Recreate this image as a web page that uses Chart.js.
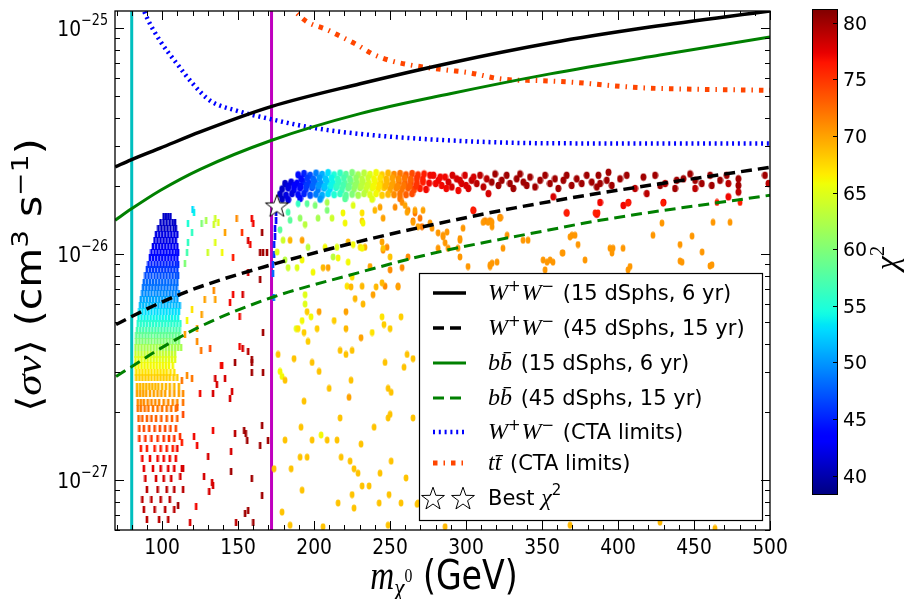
<!DOCTYPE html>
<html><head><meta charset="utf-8">
<script src="https://cdn.jsdelivr.net/npm/chart.js@4.4.1/dist/chart.umd.min.js"></script>
<style>
html,body{margin:0;padding:0;background:#fff;}
#wrap{position:relative;width:911px;height:599px;background:#fff;}
#main{position:absolute;left:0;top:0;}
#cbar{position:absolute;left:780px;top:0;}
</style></head><body>
<div id="wrap"><canvas id="main" width="911" height="599"></canvas><canvas id="cbar" width="131" height="599"></canvas></div>
<script>
// ---------------- DATA ----------------
const xRange = [69, 500];
const yRange = [6.0e-28, 1.19e-25];
const chiRange = [38.3, 81.2];
const xTickLabels = [100, 150, 200, 250, 300, 350, 400, 450, 500];
const yTickExponents = [-27, -26, -25];
const cbTickLabels = [40, 45, 50, 55, 60, 65, 70, 75, 80];

const legendChannel = ['WW', 'WW', 'bb', 'bb', 'WW', 'tt'];
const legendNote = ['(15 dSphs, 6 yr)', '(45 dSphs, 15 yr)', '(15 dSphs, 6 yr)', '(45 dSphs, 15 yr)', '(CTA limits)', '(CTA limits)'];

const massWW15 = [69.1, 79.6, 98.7, 125, 171.7, 230.3, 289.5, 355.3, 421, 500];
const svWW15 = [2.43e-26, 2.61e-26, 2.94e-26, 3.47e-26, 4.49e-26, 5.67e-26, 7.01e-26, 8.59e-26, 1.01e-25, 1.19e-25];
const massWW45 = [69.7, 79.6, 98.7, 125, 171.7, 223.7, 276.3, 332.2, 388.2, 500];
const svWW45 = [4.87e-27, 5.27e-27, 6.08e-27, 7.16e-27, 8.95e-27, 1.11e-26, 1.34e-26, 1.6e-26, 1.86e-26, 2.42e-26];
const massBB15 = [69.1, 79.6, 98.7, 125, 171.7, 230.3, 289.5, 355.3, 427.6, 500];
const svBB15 = [1.41e-26, 1.58e-26, 1.91e-26, 2.37e-26, 3.18e-26, 4.18e-26, 5.12e-26, 6.27e-26, 7.6e-26, 9.13e-26];
const massBB45 = [69.7, 79.6, 98.7, 125, 171.7, 223.7, 276.3, 355.3, 388.2, 500];
const svBB45 = [2.87e-27, 3.16e-27, 3.81e-27, 4.77e-27, 6.4e-27, 8.07e-27, 1.0e-26, 1.28e-26, 1.41e-26, 1.82e-26];
const massCtaWW = [87, 89.5, 98.7, 110, 120.4, 131.6, 149, 171, 197, 230, 290, 355, 500];
const svCtaWW = [1.25e-25, 1.13e-25, 8.77e-26, 6.92e-26, 5.65e-26, 4.77e-26, 4.31e-26, 3.96e-26, 3.64e-26, 3.4e-26, 3.18e-26, 3.09e-26, 3.08e-26];
const massCtaTT = [184, 195, 208, 217, 228, 239, 251, 263, 275, 288, 301, 324, 349, 373, 397, 421, 445, 500];
const svCtaTT = [1.25e-25, 1.07e-25, 9.87e-26, 9.22e-26, 8.45e-26, 7.65e-26, 7.15e-26, 6.87e-26, 6.68e-26, 6.51e-26, 6.36e-26, 5.94e-26, 5.85e-26, 5.74e-26, 5.55e-26, 5.42e-26, 5.37e-26, 5.3e-26];

const verticalMasses = [80, 172];
const bestPoint = [175.5, 1.64e-26];

// dense low-mass cloud, read row by row: sigma v of each row, chi^2 of each row, masses in the row
const blobRowSv = [1.47e-26, 1.38e-26, 1.30e-26, 1.22e-26, 1.15e-26, 1.08e-26, 1.02e-26, 9.6e-27, 9.0e-27, 8.5e-27, 8.0e-27, 7.5e-27, 7.1e-27, 6.7e-27, 6.3e-27, 5.9e-27, 5.55e-27, 5.2e-27, 4.9e-27, 4.6e-27, 4.35e-27, 4.1e-27, 3.85e-27, 3.6e-27, 3.4e-27, 3.2e-27, 3.0e-27, 2.85e-27, 2.6e-27, 2.4e-27, 2.2e-27, 2.06e-27, 1.86e-27, 1.68e-27, 1.52e-27, 1.37e-27, 1.24e-27, 1.12e-27, 1.01e-27, 9.1e-28, 8.2e-28, 7.4e-28, 6.7e-28];
const blobRowChi = [41, 41, 41, 42, 42, 42.5, 43, 44, 45, 46, 47, 48, 48.5, 49.5, 50.5, 51.5, 53, 54, 55.5, 57, 58.5, 60, 62, 63.5, 65, 66, 67, 68, 69, 70, 71, 72, 73, 74, 75, 76, 77, 77.5, 78, 79, 79, 79, 79];
const blobRowMasses = [
  [101, 102.5, 104, 105.5],
  [99, 101, 103, 105, 107, 108.5],
  [97.5, 99.5, 101.5, 103.5, 105.5, 107.5, 109],
  [96, 98, 100, 102, 104, 106, 108, 110],
  [95, 97, 99, 101, 103, 105, 107, 109],
  [94, 96, 98, 100, 102, 104, 106, 108, 110],
  [93, 95, 97, 99, 101, 103, 105, 107, 109, 110.5],
  [92, 94, 96, 98, 100, 102, 104, 106, 108, 110],
  [91, 93, 95, 97, 99, 101, 103, 105, 107, 109, 110.5],
  [90, 92, 94, 96, 98, 100, 102, 104, 106, 108, 110],
  [89, 91, 93, 95, 97, 99, 101, 103, 105, 107, 109, 110.5],
  [88, 90, 92, 94, 96, 98, 100, 102, 104, 106, 108, 110],
  [87.5, 89.5, 91.5, 93.5, 95.5, 97.5, 99.5, 101.5, 103.5, 105.5, 107.5, 109.5],
  [87, 89, 91, 93, 95, 97, 99, 101, 103, 105, 107, 109, 111],
  [86, 88, 90, 92, 94, 96, 98, 100, 102, 104, 106, 108, 110],
  [85.5, 87.5, 89.5, 91.5, 93.5, 95.5, 97.5, 99.5, 101.5, 103.5, 105.5, 107.5, 109.5, 111.5],
  [85, 87, 89, 91, 93, 95, 97, 99, 101, 103, 105, 107, 109, 111],
  [84.5, 86.5, 88.5, 90.5, 92.5, 94.5, 96.5, 98.5, 100.5, 102.5, 104.5, 106.5, 108.5, 110.5],
  [84, 86, 88, 90, 92, 94, 96, 98, 100, 102, 104, 106, 108, 110, 112],
  [83.5, 85.5, 87.5, 89.5, 91.5, 93.5, 95.5, 97.5, 99.5, 101.5, 103.5, 105.5, 107.5, 109.5, 111.5],
  [83, 85, 87, 89, 91, 93, 95, 97, 99, 101, 103, 105, 107, 109, 111],
  [83, 85, 87, 89, 91, 93, 95, 97, 99, 101, 103, 105, 107, 109, 111],
  [82.5, 84.5, 86.5, 88.5, 90.5, 92.5, 94.5, 96.5, 98.5, 100.5, 102.5, 104.5, 106.5, 108.5, 110.5, 112.5],
  [82.5, 84.5, 86.5, 88.5, 90.5, 92.5, 94.5, 96.5, 98.5, 100.5, 102.5, 104.5, 106.5, 108.5],
  [82.5, 84.5, 86.5, 88.5, 90.5, 92.5, 94.5, 96.5, 98.5, 100.5, 102.5, 104.5, 106.5, 108.5],
  [82.5, 84.5, 86.5, 88.5, 90.5, 92.5, 94.5, 96.5, 98.5, 100.5, 102.5, 104.5, 107],
  [83, 85, 87, 89, 91, 93, 95, 97, 99, 101, 103, 105.5, 108],
  [83, 85, 87, 89, 91, 93, 95, 97, 99, 101, 103, 105, 107.5, 110],
  [83.5, 85.5, 87.5, 89.5, 91.5, 93.5, 95.5, 97.5, 100, 102.5, 105, 108, 111],
  [83.5, 85.5, 87.5, 89.5, 92, 94.5, 97, 99.5, 102, 105, 108, 111],
  [84, 86, 88, 90.5, 93, 95.5, 98, 101, 104, 107, 110],
  [84, 86, 88.5, 91, 94, 97, 100, 103, 106, 109],
  [84.5, 87, 90, 93, 96, 99.5, 103, 106.5, 110],
  [85, 88, 91.5, 95, 98.5, 102, 105.5, 109],
  [85, 89, 93, 97, 101, 104.5, 108],
  [86, 90, 95, 99, 103, 107],
  [87, 92, 97, 101, 105, 109],
  [88, 94, 99, 104, 108],
  [89, 96, 101, 106],
  [90, 97, 103, 108],
  [87, 93, 99, 105],
  [88, 95, 102, 108],
  [90, 98, 104]
];

// sparse points drawn as short dashes: [mass GeV, sigma v, chi^2]
const dashPoints = [
  [117,1.37e-26,55],[121,1.53e-26,54],[120,1.58e-26,53],[119.7,1.25e-26,56],[116.4,1.02e-26,57],[117,1.12e-26,56],[115,9.1e-27,60],
  [126,1.37e-26,60],[129,1.41e-26,62],[135,1.44e-26,64],[134,1.35e-26,64],[137,1.38e-26,65],[130,1.02e-26,64],[135,1.12e-26,65],
  [139.5,1.01e-26,66],[141.4,1.24e-26,70],[149,1.44e-26,71],[152.6,1.24e-26,75],[159,1.44e-26,77],[160,1.37e-26,77],[156.6,1.15e-26,78],
  [165.8,1.24e-26,80],[164.5,1.01e-26,80],[166.4,1.01e-26,80],[169,1.02e-26,80],[158,1.1e-26,77],[146.7,9.6e-27,76],[156.6,8.3e-27,78],
  [164.5,7.7e-27,80],[146.7,6.6e-27,77],[153,6.6e-27,78],[134,6.9e-27,71],[128,6.3e-27,70],[135,6.3e-27,70],[119.7,5.7e-27,67],
  [116.4,5.1e-27,66],[123,4.7e-27,70],[126,5.4e-27,70],[151,5.3e-27,77],[144.7,6.1e-27,77],[115,4.4e-27,70],[123,4.1e-27,71],
  [125.7,3.75e-27,72],[131.6,3.8e-27,74],[151,3.9e-27,77],[153,3.8e-27,78],[156.6,3.7e-27,79],[159,3.4e-27,80],[166.4,4.5e-27,80],
  [138.8,3.2e-27,77],
  [116.4,2.9e-27,71],[119.7,2.8e-27,72],[113.8,2.4e-27,71],[113.8,2.2e-27,72],[125,2.4e-27,77],[135,2.8e-27,78],[136,2.65e-27,78],
  [141.4,2.8e-27,78],[139.5,3.2e-27,77],[133.5,2.4e-27,78],[144.7,2.3e-27,78],[146,2.45e-27,78],[148,3.3e-27,80],[159,3.3e-27,80],
  [159,3.0e-27,80],[166.4,3.0e-27,80],[121,1.55e-27,77],[123,1.42e-27,77],[133.5,1.66e-27,77],[148,1.6e-27,79],[154,1.66e-27,80],
  [155,1.6e-27,80],[156,1.49e-27,80],[165.8,1.74e-27,80],[164.5,1.42e-27,80],[169.7,1.49e-27,80],[145.4,1.33e-27,78],[130.3,1.27e-27,78],
  [127.6,1.03e-27,78],[133.5,9.4e-28,78],[132.9,9.7e-28,78],[131,8.9e-28,78],[145.4,1.09e-27,80],[159,1.01e-27,80],[165.8,8.5e-28,80],
  [122.4,7.6e-28,77],[154.6,7.1e-28,80],[156.6,7.3e-28,80],[118.4,6.5e-28,78],[160,6.5e-28,80],[148.7,6.5e-28,79],[112,1.04e-27,78],
  [113,1.12e-27,78],[113.8,9.1e-28,79],[110.5,7.7e-28,80],
  [113,2.75e-27,72],[110,2.1e-27,73],[113.8,1.95e-27,74],[111.8,1.55e-27,75],[113,1.47e-27,76],[110,1.37e-27,77],[113.8,1.12e-27,78],
  [175.7,1.64e-26,42],[175,1.53e-26,42],[175,1.41e-26,43],[174.3,1.3e-26,43],[174.3,1.2e-26,44],[173.7,1.1e-26,45],[173.7,9.9e-27,46],
  [173,9.0e-27,47],[173,8.2e-27,48],[173.5,6.4e-27,49]
];

// dense high-mass band near 2e-26: [mass GeV, sigma v, chi^2]
const bandPoints = [
  [189.5,2.24e-26,44],[193.4,2.27e-26,45],[197.4,2.23e-26,47],[201.3,2.28e-26,49],[205.3,2.25e-26,51],[209.2,2.29e-26,53],[213.2,2.24e-26,55],
  [217.1,2.28e-26,56],[221,2.25e-26,58],[225,2.29e-26,60],[229,2.24e-26,62],[232.9,2.28e-26,63],[236.8,2.25e-26,65],[240.8,2.29e-26,66],
  [244.7,2.24e-26,68],[248.7,2.28e-26,69],[252.6,2.25e-26,71],[256.6,2.27e-26,72],[260.5,2.24e-26,73],[264.5,2.27e-26,74],[268.4,2.24e-26,75],
  [272.4,2.26e-26,76],[276.3,2.23e-26,77],
  [180.9,2.05e-26,41],[184.9,2.08e-26,42],[188.8,2.06e-26,43],[192.8,2.09e-26,45],[196.7,2.06e-26,46],[200.7,2.08e-26,48],[204.6,2.05e-26,50],
  [208.6,2.09e-26,52],[212.5,2.06e-26,54],[216.4,2.08e-26,56],[220.4,2.05e-26,58],[224.3,2.09e-26,60],[228.3,2.06e-26,61],[232.2,2.08e-26,63],
  [236.2,2.05e-26,65],[240.1,2.09e-26,66],[244,2.06e-26,68],[248,2.08e-26,69],[252,2.05e-26,70],[255.9,2.09e-26,72],[259.9,2.06e-26,73],
  [263.8,2.08e-26,74],[267.8,2.05e-26,75],[271.7,2.08e-26,76],[275.7,2.06e-26,77],
  [179,1.94e-26,41],[183,1.96e-26,42],[186.8,1.93e-26,43],[190.8,1.96e-26,44],[194.7,1.94e-26,46],[198.7,1.97e-26,47],[202.6,1.93e-26,49],
  [206.6,1.96e-26,51],[210.5,1.94e-26,53],[214.5,1.97e-26,55],[218.4,1.93e-26,57],[222.4,1.96e-26,59],[226.3,1.94e-26,61],[230.3,1.97e-26,62],
  [234.2,1.93e-26,64],[238.2,1.96e-26,65],[242.1,1.94e-26,67],[246,1.97e-26,68],[250,1.93e-26,70],[254,1.96e-26,71],[257.9,1.94e-26,72],
  [261.8,1.96e-26,73],[265.8,1.93e-26,74],[269.7,1.95e-26,76],[273.7,1.93e-26,77],
  [177.6,1.84e-26,41],[181.6,1.82e-26,42],[185.5,1.85e-26,42],[189.5,1.83e-26,44],[193.4,1.85e-26,45],[197.4,1.82e-26,47],[201.3,1.84e-26,49],
  [205.3,1.82e-26,51],[209.2,1.85e-26,53],[213.2,1.83e-26,55],[217.1,1.85e-26,56],[221,1.82e-26,58],[225,1.84e-26,60],[229,1.82e-26,62],
  [232.9,1.85e-26,63],[236.8,1.83e-26,65],[240.8,1.85e-26,66],[244.7,1.82e-26,68],[248.7,1.84e-26,69],[252.6,1.83e-26,71],[256.6,1.85e-26,72],
  [260.5,1.83e-26,73],[264.5,1.85e-26,74],
  [191.5,2.15e-26,44],[195.5,2.17e-26,46],[199.5,2.14e-26,48],[203.5,2.17e-26,50],[207.5,2.15e-26,52],[211.5,2.17e-26,54],[215.5,2.14e-26,56],
  [219.5,2.17e-26,57],[223.5,2.15e-26,59],[227.5,2.17e-26,61],[231.5,2.14e-26,63],[235.5,2.17e-26,64],[239.5,2.15e-26,66],[243.5,2.17e-26,67],
  [247.5,2.14e-26,69],[251.5,2.17e-26,70],[255.5,2.15e-26,71],[259.5,2.17e-26,72],[263.5,2.14e-26,73],[267.5,2.16e-26,75],[271.5,2.14e-26,76],
  [183,2.0e-26,42],[187,2.01e-26,43],[191,1.99e-26,44],[195,2.01e-26,46],[199,2.0e-26,48],[203,2.01e-26,50],[207,1.99e-26,52],[211,2.01e-26,54],
  [215,2.0e-26,56],[219,2.01e-26,57],[223,1.99e-26,59],[227,2.01e-26,61],[231,2.0e-26,63],[235,2.01e-26,64],[239,1.99e-26,66],[243,2.01e-26,67],
  [247,2.0e-26,69],[251,2.01e-26,70],[255,1.99e-26,71],[259,2.01e-26,72],[263,2.0e-26,73],[267,2.0e-26,75],
  [179,1.75e-26,41],[183,1.74e-26,42],[190.8,1.76e-26,44],[204,1.75e-26,50],[220.4,1.76e-26,58],[238.2,1.75e-26,65],[256.6,1.76e-26,72],
  [278.5,2.23e-26,77],[281.8,2.12e-26,77],[284,2.01e-26,77],[286.2,2.19e-26,77],[288.4,2.08e-26,78],[290.6,1.98e-26,78],[293.8,2.15e-26,78],
  [297.1,2.05e-26,78],[299.3,2.23e-26,78],[301.5,1.95e-26,78],[303.7,2.12e-26,79],[307,2.05e-26,79],[309.2,2.23e-26,79],[311.4,1.98e-26,79],
  [313.6,2.15e-26,79],[316.9,2.08e-26,80],[319.1,2.26e-26,80],[321.3,2.01e-26,80],[323.5,2.12e-26,80],[326.7,2.23e-26,80],[328.9,2.05e-26,80],
  [331.1,1.95e-26,80],[333.3,2.15e-26,80],[335.5,2.26e-26,80],[337.7,2.08e-26,80],[339.9,2.01e-26,80],[342.1,2.19e-26,80],[345.4,1.98e-26,80],
  [348.7,2.12e-26,80],[352,2.23e-26,80],[355.2,2.05e-26,80],[358.5,2.15e-26,80],[360.7,1.95e-26,80],[364,2.12e-26,80],[366.2,2.23e-26,80],
  [369.5,2.01e-26,80],[372.8,2.15e-26,80],[376.1,2.05e-26,80],[379.4,2.23e-26,80],[382.7,2.08e-26,80],[386,1.98e-26,80],[314.7,1.85e-26,78],
  [357.4,1.79e-26,78],[294.9,1.91e-26,77],[280,2.05e-26,77],[283,2.19e-26,77],[287,1.95e-26,77],[291,2.23e-26,78],[296,2.12e-26,78],
  [300,2.01e-26,78],[305,2.19e-26,78],
  [387.1,2.23e-26,80],[388.2,2.05e-26,80],[392.6,2.12e-26,80],[393.7,2.3e-26,80],[395.9,2.01e-26,80],[401.3,2.15e-26,80],[405.7,2.23e-26,80],
  [411.2,1.95e-26,79],[416.7,2.19e-26,80],[418.9,1.85e-26,79],[424.4,2.23e-26,80],[427.7,2.01e-26,80],[431,2.05e-26,79],[437.5,1.95e-26,80],
  [438.6,2.12e-26,80],[443,2.15e-26,80],[447.4,2.26e-26,80],[450.7,2.12e-26,80],[450.7,1.95e-26,79],[455.1,2.05e-26,80],[460.6,2.23e-26,80],
  [461.7,2.01e-26,80],[467.1,2.12e-26,80],[471.5,2.23e-26,80],[472.6,2.05e-26,79],[479.2,2.01e-26,80],[479.2,1.88e-26,79],[496.7,2.23e-26,80],
  [499,2.05e-26,79],[479.2,2.15e-26,80],
  [388.2,1.69e-26,77],[406.8,1.69e-26,77],[429.9,1.69e-26,77],[472.6,1.79e-26,77],[403.5,1.64e-26,77],[304.8,1.56e-26,77],[366.2,1.52e-26,77],
  [386,1.5e-26,77],[312.5,1.4e-26,71],[315.8,1.4e-26,71],[322.4,1.45e-26,71]
];

// scattered points below the band: [mass GeV, sigma v, chi^2]
const scatterPoints = [
  [182.9,1.53e-26,57],[189.5,1.67e-26,56],[195.4,1.67e-26,58],[200.7,1.64e-26,60],[208.6,1.69e-26,62],[208.6,1.56e-26,60],[202.6,1.44e-26,62],
  [194.1,1.35e-26,63],[190.8,1.44e-26,61],[184.2,1.41e-26,58],[177.6,1.28e-26,58],[211.8,1.44e-26,64],[219,1.52e-26,66],[220.4,1.37e-26,66],
  [225.7,1.64e-26,65],[231.6,1.52e-26,67],[231.6,1.4e-26,68],[240,1.56e-26,69],[243.4,1.61e-26,70],[245.4,1.44e-26,70],[253.3,1.61e-26,71],
  [257.9,1.69e-26,71],[261.8,1.56e-26,71],[266.4,1.52e-26,72],[269.7,1.44e-26,72],[265.1,1.4e-26,72],[271,1.32e-26,72],[179.6,1.15e-26,64],
  [184.2,1.15e-26,69],[192.1,1.15e-26,70],[196,1.07e-26,63],[215,1.07e-26,65],[207.2,1.07e-26,66],[222.4,1.13e-26,69],[225.7,1.1e-26,66],
  [230.3,1.07e-26,67],[233.5,1.07e-26,69],[245.4,1.04e-26,71],[248,1.07e-26,71],[244.7,1.13e-26,70],[175.7,1.02e-26,65],[180.9,9.4e-27,63],
  [182.9,8.7e-27,64],[188.8,8.7e-27,65],[192.1,9.4e-27,66],[199.3,8.3e-27,66],[205.9,8.7e-27,69],[209.2,8.7e-27,70],[212.5,9.7e-27,63],
  [215.8,9.6e-27,66],[222.4,9.2e-27,66],[225,7.9e-27,67],[231.6,7.2e-27,69],[236.8,8.8e-27,70],[250,8.5e-27,71],[257.9,8.7e-27,71],
  [261.8,9.7e-27,71],[255.3,7.2e-27,71],[246.7,7.2e-27,71],[221.7,7.2e-27,67],
  [194.1,6.6e-27,65],[194.1,6.0e-27,65],[195.4,5.55e-27,68],[203.3,5.55e-27,70],[198,5.27e-27,66],[192.1,5.07e-27,66],[188.2,4.67e-27,65],
  [189.5,4.67e-27,67],[193.4,4.49e-27,68],[196,4.1e-27,68],[202,4.67e-27,68],[213.2,5.07e-27,68],[221,5.55e-27,70],[221,4.67e-27,69],
  [227,6.34e-27,69],[232.2,6.0e-27,69],[224.3,7.15e-27,69],[238.8,6.6e-27,70],[240.8,7.15e-27,69],[244.7,7.45e-27,69],[255.3,7.15e-27,70],
  [244.7,5.27e-27,67],[246,4.87e-27,68],[250,4.67e-27,68],[257.2,5.27e-27,68],[238.2,4.49e-27,67],[230.9,4.26e-27,70],[217.1,3.74e-27,68.5],
  [221,3.59e-27,68.5],[225,3.74e-27,68.5],[176.3,3.59e-27,68.5],[186.8,3.44e-27,68.5],[198.7,3.31e-27,68.5],[203.3,3.02e-27,68.5],[177.6,3.02e-27,66],
  [178.9,2.87e-27,66],[180.9,2.76e-27,68.5],[209.9,2.54e-27,68.5],[224.3,2.76e-27,68.5],[223,2.32e-27,70],[246.7,3.31e-27,68.5],[259.2,3.15e-27,68.5],
  [261.2,3.59e-27,68.5],[265.1,3.44e-27,68.5],[248.7,2.54e-27,68.5],[250.7,2.44e-27,68.5],[193.4,2.23e-27,68.5],[217.1,1.88e-27,68.5],[248.7,1.88e-27,68.5],
  [250,1.95e-27,68.5],[265.1,1.88e-27,68.5],[239.5,1.71e-27,68.5],[191.4,1.71e-27,68.5],[180.9,1.5e-27,68.5],[198.7,1.5e-27,68.5],[204.6,1.58e-27,66],
  [208.6,1.5e-27,68.5],[215.1,1.5e-27,68.5],[230.9,1.44e-27,68.5],[190.8,1.26e-27,68.5],[195.4,1.26e-27,68.5],[217.8,1.26e-27,68.5],[223.7,1.21e-27,68.5],
  [250.7,1.21e-27,68.5],[173.7,1.12e-27,68.5],[184.9,1.12e-27,68.5],[226.3,1.12e-27,68.5],[228.9,1.07e-27,68.5],[243.4,1.07e-27,68.5],[260.5,1.02e-27,68.5],
  [231.6,9.4e-28,68.5],[236.2,9.4e-28,68.5],[192.1,9.0e-28,68.5],[225,8.6e-28,68.5],[249.3,8.6e-28,68.5],[215.8,7.9e-28,68.5],[226.3,7.5e-28,68.5],
  [242.8,7.9e-28,68.5],[257.2,7.9e-28,68.5],[178.9,7.2e-28,68.5],[184.2,6.3e-28,68.5],[248.7,6.3e-28,68.5],[205.9,6.2e-28,68.5],[268.4,7.9e-28,68.5],
  [267.8,7.8e-28,68.5],
  [232.2,1.37e-26,66],[231.6,1.06e-26,66],[245.4,1.06e-26,68.5],[250,9.7e-27,68.5],[259.9,1.64e-26,70],[261.2,1.53e-26,70],[265.1,1.38e-26,70],
  [268.4,1.32e-26,70],[266.4,1.56e-26,70],[271.7,1.56e-26,70],[276.3,1.37e-26,70.5],[277.6,1.3e-26,70.5],[281.6,1.24e-26,70.5],[284.9,1.19e-26,70.5],
  [287.5,1.25e-26,70.5],[296,1.17e-26,70.5],[294.7,1.06e-26,70.5],[288.2,1.06e-26,70.5],[281.6,1.06e-26,70.5],[298,1.3e-26,70.5],[304.6,1.56e-26,76],
  [311.2,1.38e-26,70.5],[317.1,1.38e-26,70.5],[322.4,1.44e-26,70.5],[324.3,1.06e-26,70.5],[315.8,8.8e-27,70.5],[317.1,9.1e-27,70.5],[337.5,1.15e-26,70.5],
  [350.7,9.4e-27,70.5],[352,8.5e-27,70.5],[355.3,9.4e-27,70.5],[363.2,1.01e-26,70.5],[366.4,1.52e-26,76],[369.7,1.21e-26,70.5],[373.7,1.1e-26,70.5],
  [378.3,9.4e-27,70.5],[386.8,1.52e-26,76],[396.7,1.06e-26,70.5],[403.3,1.06e-26,70.5],[406.6,1.68e-26,76],[407.9,8.8e-27,70.5],[423,1.21e-26,70.5],
  [428.9,1.37e-26,70.5],[429.6,1.68e-26,76],[440.8,1.1e-26,70.5],[442.1,9.2e-27,70.5],[461.8,8.95e-27,70.5],[462.5,1.38e-26,70.5],[465.1,1.69e-26,76],
  [473.7,1.38e-26,70.5],[480.3,1.69e-26,76],
  [284.9,1.21e-26,70.5],[286.2,1.12e-26,70.5],[296,1.15e-26,70.5],[296,9.7e-27,70.5],[301.3,8.8e-27,70.5],[314.5,1.38e-26,70.5],[317.1,1.32e-26,70.5],
  [315.8,8.95e-27,70.5],[320.4,9.2e-27,70.5],[327,1.21e-26,70.5],[340.8,1.15e-26,70.5],[353.3,9.2e-27,70.5],[357.2,9.2e-27,70.5],[363.8,1.01e-26,70.5],
  [371.7,1.21e-26,70.5],[368.4,1.19e-26,70.5],[384.9,1.52e-26,76],[394.7,1.06e-26,70.5],[396,1.01e-26,70.5],[406.6,8.5e-27,70.5],[440.8,9.3e-27,70.5],
  [448.7,1.2e-26,70.5],[455.3,1.02e-26,70.5],[460.5,8.85e-27,70.5],
  [286.2,6.2e-28,69],[368.4,6.3e-28,69],[427.6,6.5e-28,69],[463.8,6.1e-28,69]
];

// ---------------- HELPERS ----------------
const SANS = '"DejaVu Sans", "Liberation Sans", sans-serif';
const SERIF = '"Liberation Serif", "DejaVu Serif", serif';
const S = px => px + 'px ' + SANS;
const MI = px => 'italic ' + px + 'px ' + SERIF;
const SR = px => px + 'px ' + SERIF;

const JR = [[0,0],[0.35,0],[0.66,1],[0.89,1],[1,0.5]];
const JG = [[0,0],[0.125,0],[0.375,1],[0.64,1],[0.91,0],[1,0]];
const JB = [[0,0.5],[0.11,1],[0.34,1],[0.65,0],[1,0]];
function interp(v, pts){ for (let i=1;i<pts.length;i++){ if (v<=pts[i][0]){ const a=pts[i-1], b=pts[i]; return a[1]+(b[1]-a[1])*(v-a[0])/(b[0]-a[0]); } } return pts[pts.length-1][1]; }
function jetV(v){ v=Math.max(0,Math.min(1,v)); return 'rgb('+Math.round(255*interp(v,JR))+','+Math.round(255*interp(v,JG))+','+Math.round(255*interp(v,JB))+')'; }
function jetChi(c){ return jetV((c-chiRange[0])/(chiRange[1]-chiRange[0])); }

const spriteCache = {};
function ellipseSprite(col, rx, ry){
  const key = 'e'+col+'|'+rx+'|'+ry;
  if (spriteCache[key]) return spriteCache[key];
  const c=document.createElement('canvas'); c.width=Math.ceil(2*rx+1); c.height=Math.ceil(2*ry+1);
  const g=c.getContext('2d'); g.fillStyle=col; g.beginPath(); g.ellipse(c.width/2,c.height/2,rx,ry,0,0,Math.PI*2); g.fill();
  spriteCache[key]=c; return c;
}
function dashSprite(col){
  const key = 'd'+col;
  if (spriteCache[key]) return spriteCache[key];
  const c=document.createElement('canvas'); c.width=4; c.height=7;
  const g=c.getContext('2d'); g.fillStyle=col; g.fillRect(0.7,0,2.6,7);
  spriteCache[key]=c; return c;
}
function makeStar(R){
  const s=Math.ceil(2*R+4); const c=document.createElement('canvas'); c.width=s; c.height=s;
  const g=c.getContext('2d'); const cx=s/2, cy=s/2+R*0.1;
  g.beginPath();
  for (let i=0;i<10;i++){ const r=(i%2)?R*0.4:R; const a=-Math.PI/2+i*Math.PI/5; const x=cx+r*Math.cos(a), y=cy+r*Math.sin(a); if(i) g.lineTo(x,y); else g.moveTo(x,y); }
  g.closePath(); g.fillStyle='#fff'; g.fill(); g.lineWidth=1; g.strokeStyle='#000'; g.stroke();
  return c;
}
const starImg = makeStar(12);

function runsWidth(ctx, runs){ let w=0; for (const r of runs){ ctx.font=r.f; w+=(r.dx||0)+ctx.measureText(r.t).width; } return w; }
function drawRuns(ctx, runs, x, y, align, sx){
  sx = sx||1;
  const w = runsWidth(ctx, runs)*sx;
  const x0 = align==='right' ? x-w : (align==='center' ? x-w/2 : x);
  ctx.save(); ctx.translate(x0, y); ctx.scale(sx, 1);
  ctx.textAlign='left'; ctx.textBaseline='alphabetic';
  let cx=0;
  for (const r of runs){ ctx.font=r.f; cx+=(r.dx||0); ctx.fillText(r.t, cx, r.dy||0); cx+=ctx.measureText(r.t).width; }
  ctx.restore();
}
function channelRuns(ch){
  if (ch==='WW') return [{t:'W',f:MI(24)},{t:'+',f:S(15),dy:-9},{t:'W',f:MI(24),dx:1},{t:'\u2212',f:S(15),dy:-9}];
  if (ch==='bb') return [{t:'b',f:MI(24)},{t:'b\u0304',f:MI(24)}];
  return [{t:'t',f:MI(24)},{t:'t\u0304',f:MI(24)}];
}

const zip = (xs, ys) => xs.map((x,i)=>({x:x, y:ys[i]}));

// styles (kept separate from data)
const curveStyles = [
  {color:'#000000', width:3.5, dash:[]},
  {color:'#000000', width:3.5, dash:[11,6]},
  {color:'#008000', width:3, dash:[]},
  {color:'#008000', width:3, dash:[11,6]},
  {color:'#0000ff', width:4.5, dash:[2,3.8]},
  {color:'#ff4500', width:5, dash:[4.5,6,1.5,6]}
];
const curveData = [zip(massWW15,svWW15), zip(massWW45,svWW45), zip(massBB15,svBB15), zip(massBB45,svBB45), zip(massCtaWW,svCtaWW), zip(massCtaTT,svCtaTT)];

const blobPts = [];
blobRowSv.forEach((sv,i)=>blobRowMasses[i].forEach(m=>blobPts.push({x:m, y:sv, c:blobRowChi[i]})));
const dashPts = dashPoints.map(p=>({x:p[0], y:p[1], c:p[2]}));
const bandPts = bandPoints.map(p=>({x:p[0], y:p[1], c:p[2]}));
const dotPts = scatterPoints.map(p=>({x:p[0], y:p[1], c:p[2]}));

const datasets = [];
datasets.push({type:'scatter', data:[{x:bestPoint[0], y:bestPoint[1]}], pointStyle:starImg, pointRadius:10, order:0, clip:0});
curveData.forEach((d,i)=>{
  const st=curveStyles[i];
  datasets.push({type:'line', data:d, borderColor:st.color, borderWidth:st.width, borderDash:st.dash, borderCapStyle:'butt',
    pointRadius:0, cubicInterpolationMode:'monotone', fill:false, order:1, clip:0});
});
datasets.push({type:'scatter', data:dotPts, pointStyle:(c)=>ellipseSprite(jetChi(c.raw.c),2.4,3.4), pointRadius:3, order:3, clip:0});
datasets.push({type:'scatter', data:bandPts, pointStyle:(c)=>ellipseSprite(jetChi(c.raw.c),3.0,3.7), pointRadius:3, order:3, clip:0});
datasets.push({type:'scatter', data:blobPts.concat(dashPts), pointStyle:(c)=>dashSprite(jetChi(c.raw.c)), pointRadius:3, order:3, clip:0});
const vColors = ['#00bfbf', '#bf00bf'];
verticalMasses.forEach((m,i)=>{
  datasets.push({type:'line', data:[{x:m,y:yRange[0]},{x:m,y:yRange[1]}], borderColor:vColors[i], borderWidth:3, pointRadius:0, order:4, clip:0});
});

function drawLegend(ctx){
  const bx=419, by=273, bw=343, bh=247;
  ctx.save();
  ctx.fillStyle='#fff'; ctx.fillRect(bx,by,bw,bh);
  ctx.strokeStyle='#000'; ctx.lineWidth=1.2; ctx.setLineDash([]); ctx.strokeRect(bx+0.5,by+0.5,bw,bh);
  const rows=[293,328,363,398,432,463,498];
  for (let i=0;i<6;i++){
    const st=curveStyles[i], yc=rows[i];
    ctx.save(); ctx.strokeStyle=st.color; ctx.lineWidth=st.width; ctx.setLineDash(st.dash); ctx.lineCap='butt';
    ctx.beginPath(); ctx.moveTo(433,yc); ctx.lineTo(466,yc); ctx.stroke(); ctx.restore();
    ctx.fillStyle='#000';
    drawRuns(ctx, channelRuns(legendChannel[i]).concat([{t:' '+legendNote[i], f:S(21), dx:2}]), 488, yc+7, 'left');
  }
  ctx.drawImage(starImg, 433-starImg.width/2, 498-starImg.height/2);
  ctx.drawImage(starImg, 463-starImg.width/2, 498-starImg.height/2);
  ctx.fillStyle='#000';
  drawRuns(ctx, [{t:'Best ',f:S(21)},{t:'\u03c7',f:MI(24)},{t:'2',f:S(15),dy:-10}], 488, 505, 'left');
  ctx.restore();
}

const decor = {
  id:'decor',
  afterDraw(chart){
    const ctx=chart.ctx, a=chart.chartArea, xs=chart.scales.x, ys=chart.scales.y;
    drawLegend(ctx);
    ctx.save();
    ctx.strokeStyle='#000'; ctx.setLineDash([]);
    ctx.lineWidth=1.3; ctx.strokeRect(a.left, a.top, a.right-a.left, a.bottom-a.top);
    ctx.lineWidth=1; ctx.beginPath();
    for (let m=70; m<=500; m+=10){
      const px=Math.round(xs.getPixelForValue(m))+0.5; const L = xTickLabels.includes(m) ? 9 : 5;
      ctx.moveTo(px,a.bottom); ctx.lineTo(px,a.bottom-L); ctx.moveTo(px,a.top); ctx.lineTo(px,a.top+L);
    }
    for (let e=-28; e<=-25; e++){
      for (let k=1;k<=9;k++){
        const v=k*Math.pow(10,e); if (v<yRange[0] || v>yRange[1]) continue;
        const py=Math.round(ys.getPixelForValue(v))+0.5; const L = (k===1) ? 9 : 5;
        ctx.moveTo(a.left,py); ctx.lineTo(a.left+L,py); ctx.moveTo(a.right,py); ctx.lineTo(a.right-L,py);
      }
    }
    ctx.stroke();
    ctx.fillStyle='#000';
    xTickLabels.forEach(v=>{ drawRuns(ctx,[{t:String(v),f:S(22)}], xs.getPixelForValue(v), a.bottom+24, 'center', 0.85); });
    yTickExponents.forEach(e=>{
      const py=ys.getPixelForValue(Math.pow(10,e));
      drawRuns(ctx,[{t:'10',f:S(22)},{t:'\u2212'+String(-e),f:S(15),dy:-11}], 108, py+8, 'right', 0.85);
    });
    drawRuns(ctx,[{t:'m',f:MI(40)},{t:'\u03c7',f:MI(28),dy:8},{t:'0',f:SR(19),dy:-7},{t:' (GeV)',f:S(40)}], 444, 589, 'center', 0.83);
    ctx.save(); ctx.translate(41, 275); ctx.rotate(-Math.PI/2); ctx.scale(1,0.85);
    drawRuns(ctx,[{t:'\u27e8',f:S(41)},{t:'\u03c3v',f:MI(43)},{t:'\u27e9',f:S(41)},{t:' (cm',f:S(41)},{t:'3',f:S(28),dy:-15},{t:' s',f:S(41)},{t:'\u22121',f:S(28),dy:-15},{t:')',f:S(41)}], 0, 0, 'center', 1);
    ctx.restore();
    ctx.restore();
  }
};

new Chart(document.getElementById('main'), {
  type:'scatter',
  data:{datasets:datasets},
  options:{
    responsive:false, animation:false, events:[], devicePixelRatio:1,
    layout:{padding:{left:115, top:10, right:141, bottom:69}},
    plugins:{legend:{display:false}, tooltip:{enabled:false}},
    scales:{
      x:{type:'linear', min:xRange[0], max:xRange[1], display:false},
      y:{type:'logarithmic', min:yRange[0], max:yRange[1], display:false}
    }
  },
  plugins:[decor]
});

// ---------------- COLORBAR ----------------
function cbGradient(chart){
  const a=chart.chartArea; if (!a) return '#888';
  const ys=chart.scales.y;
  const g=chart.ctx.createLinearGradient(0, ys.getPixelForValue(chiRange[0]), 0, ys.getPixelForValue(chiRange[1]));
  for (let i=0;i<=100;i++){ g.addColorStop(i/100, jetV(i/100)); }
  return g;
}
const cbDecor = {
  id:'cbDecor',
  afterDraw(chart){
    const ctx=chart.ctx, a=chart.chartArea, ys=chart.scales.y;
    ctx.save();
    ctx.strokeStyle='#000'; ctx.lineWidth=1; ctx.strokeRect(a.left+0.5, a.top+0.5, a.right-a.left-1, a.bottom-a.top-1);
    ctx.beginPath();
    cbTickLabels.forEach(v=>{ const py=Math.round(ys.getPixelForValue(v))+0.5; ctx.moveTo(a.right,py); ctx.lineTo(a.right-5,py); });
    ctx.stroke();
    ctx.fillStyle='#000';
    cbTickLabels.forEach(v=>{ drawRuns(ctx,[{t:String(v),f:S(20)}], a.right+5, ys.getPixelForValue(v)+7, 'left', 0.95); });
    ctx.translate(117, 258); ctx.rotate(-Math.PI/2);
    drawRuns(ctx,[{t:'\u03c7',f:MI(32)},{t:'2',f:SR(21),dy:-13}], 0, 0, 'center', 1);
    ctx.restore();
  }
};
new Chart(document.getElementById('cbar'), {
  type:'bar',
  data:{labels:['chi2'], datasets:[{data:[[chiRange[0], chiRange[1]]], backgroundColor:(c)=>cbGradient(c.chart), borderWidth:0, barPercentage:1, categoryPercentage:1}]},
  options:{
    responsive:false, animation:false, events:[], devicePixelRatio:1,
    layout:{padding:{left:32, right:73, top:9, bottom:104}},
    plugins:{legend:{display:false}, tooltip:{enabled:false}},
    scales:{x:{display:false}, y:{display:false, min:chiRange[0], max:chiRange[1]}}
  },
  plugins:[cbDecor]
});
</script>
</body></html>
